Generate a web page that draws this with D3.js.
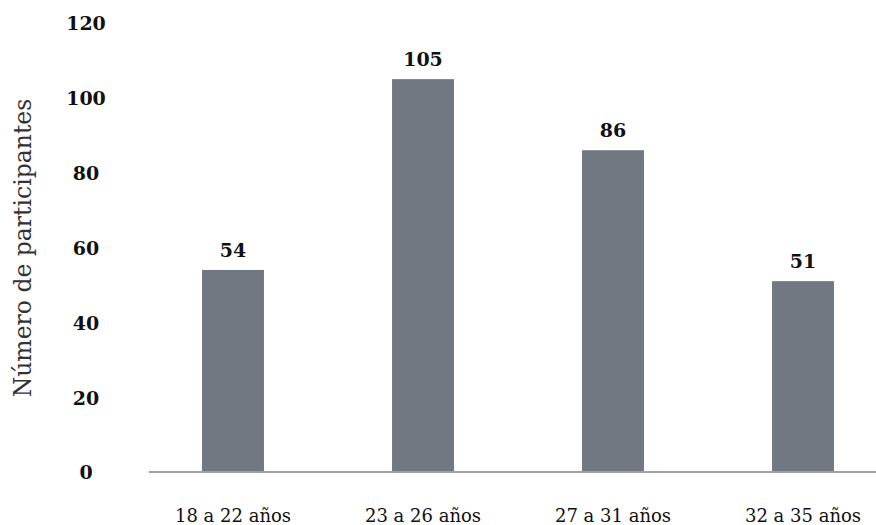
<!DOCTYPE html>
<html>
<head>
<meta charset="utf-8">
<script src="https://cdn.jsdelivr.net/npm/d3@7"></script>
<style>
  html, body { margin: 0; padding: 0; background: #fff; }
  svg { display: block; }
</style>
</head>
<body>
<svg id="chart" width="876" height="525"></svg>
<script>
// Age groups and number of participants in each
const categories = ["18 a 22 años", "23 a 26 años", "27 a 31 años", "32 a 35 años"];
const participants = [54, 105, 86, 51];
const yTicks = [0, 20, 40, 60, 80, 100, 120];
const yTitle = "Número de participantes";

const svg = d3.select("#chart");
const serif = "'DejaVu Serif', 'Liberation Serif', serif";

const x = d3.scaleBand()
  .domain(categories)
  .range([138, 898])
  .paddingInner(0.674)
  .paddingOuter(0.337);

const y = d3.scaleLinear()
  .domain([0, 120])
  .range([472, 23]);

// Bars
svg.append("g")
  .selectAll("rect")
  .data(participants)
  .join("rect")
  .attr("x", (d, i) => x(categories[i]))
  .attr("y", d => y(d))
  .attr("width", x.bandwidth())
  .attr("height", d => y(0) - y(d))
  .attr("fill", "#727882");

// Value labels above bars
svg.append("g")
  .selectAll("text")
  .data(participants)
  .join("text")
  .attr("x", (d, i) => x(categories[i]) + x.bandwidth() / 2)
  .attr("y", d => y(d) - 13)
  .attr("text-anchor", "middle")
  .style("font-family", serif)
  .style("font-weight", "bold")
  .style("font-size", "19px")
  .attr("fill", "#111")
  .text(d => d);

// Y axis tick labels (no domain or tick lines)
const yAxis = svg.append("g")
  .attr("transform", "translate(86,0)")
  .call(d3.axisLeft(y).tickValues(yTicks).tickSize(0).tickPadding(0));
yAxis.select(".domain").remove();
yAxis.selectAll("text")
  .attr("text-anchor", "middle")
  .attr("x", 0)
  .attr("dy", "0.36em")
  .style("font-family", serif)
  .style("font-weight", "bold")
  .style("font-size", "19px")
  .attr("fill", "#111");

// Baseline
svg.append("line")
  .attr("x1", 149).attr("x2", 876)
  .attr("y1", y(0)).attr("y2", y(0))
  .attr("stroke", "#a0a0a0")
  .attr("stroke-width", 2);

// Category labels
const xAxis = svg.append("g")
  .attr("transform", `translate(0,${y(0)})`)
  .call(d3.axisBottom(x).tickSize(0).tickPadding(0));
xAxis.select(".domain").remove();
xAxis.selectAll("text")
  .attr("y", 50)
  .attr("dy", "0")
  .style("font-family", serif)
  .style("font-size", "18px")
  .attr("fill", "#111");

// Y axis title
svg.append("text")
  .attr("transform", "translate(31,248) rotate(-90)")
  .attr("text-anchor", "middle")
  .style("font-family", serif)
  .style("font-size", "23.5px")
  .attr("fill", "#333")
  .text(yTitle);
</script>
</body>
</html>
